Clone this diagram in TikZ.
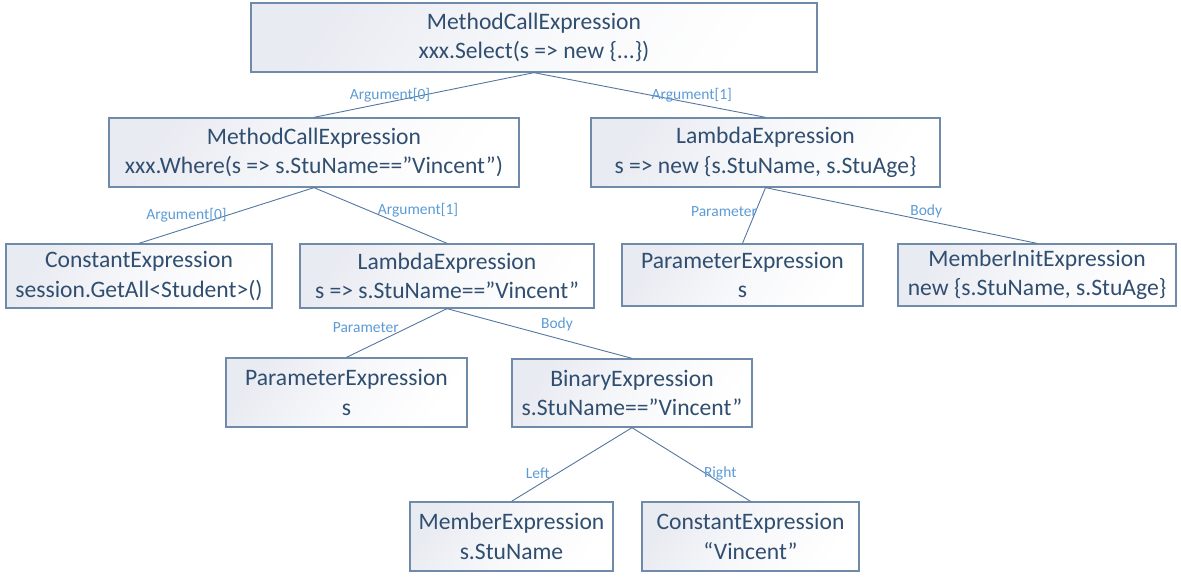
\documentclass[tikz,border=0pt]{standalone}
\usepackage{fontspec}
\setmainfont{Carlito}
\definecolor{boxtext}{RGB}{48,78,112}
\definecolor{boxborder}{RGB}{112,138,170}
\definecolor{boxshade}{RGB}{233,235,242}
\definecolor{edgecol}{RGB}{84,118,160}
\definecolor{lblcol}{RGB}{91,155,213}
\begin{document}
\begin{tikzpicture}[x=1pt,y=-1pt,
  exprbox/.style={rectangle, draw=boxborder, line width=1.3pt,
    top color=boxshade, bottom color=white, middle color=boxshade!35!white, shading angle=55,
    inner sep=0pt, align=center, text=boxtext,
    font=\fontsize{23.6}{29.4}\selectfont},
  conn/.style={draw=edgecol, line width=0.9pt},
  elabel/.style={text=lblcol, inner sep=0pt, font=\fontsize{15.5}{18}\selectfont}]
\useasboundingbox (0,0) rectangle (1181,578);
\node[exprbox, minimum width=566pt, minimum height=69pt] (top) at (534,37.5) {MethodCallExpression\\xxx.Select(s => new \{...\})};
\node[exprbox, minimum width=410pt, minimum height=69pt] (mcw) at (314,152.5) {MethodCallExpression\\xxx.Where(s => s.StuName==”Vincent”)};
\node[exprbox, minimum width=349pt, minimum height=69pt] (lam1) at (765.5,152.5) {LambdaExpression\\s => new \{s.StuName, s.StuAge\}};
\node[exprbox, minimum width=266pt, minimum height=64pt] (con1) at (139,276) {ConstantExpression\\session.GetAll<Student>()};
\node[exprbox, minimum width=294pt, minimum height=64pt] (lam2) at (447,276) {LambdaExpression\\s => s.StuName==”Vincent”};
\node[exprbox, minimum width=241pt, minimum height=62pt] (parR) at (742.5,275) {ParameterExpression\\s};
\node[exprbox, minimum width=278pt, minimum height=62pt] (mi) at (1037,275) {MemberInitExpression\\new \{s.StuName, s.StuAge\}};
\node[exprbox, minimum width=241pt, minimum height=69pt] (parL) at (346.5,392.5) {ParameterExpression\\s};
\node[exprbox, minimum width=240pt, minimum height=68pt] (bin) at (632,393) {BinaryExpression\\s.StuName==”Vincent”};
\node[exprbox, minimum width=203pt, minimum height=69pt] (mem) at (511.5,536.5) {MemberExpression\\s.StuName};
\node[exprbox, minimum width=217pt, minimum height=69pt] (con2) at (750.5,536.5) {ConstantExpression\\“Vincent”};

\draw[conn] (top.south) -- node[elabel, pos=0.5, xshift=-34pt] (l1) {Argument[0]} (mcw.north);
\draw[conn] (top.south) -- node[elabel, pos=0.5, xshift=42pt] (l2) {Argument[1]} (lam1.north);
\draw[conn] (mcw.south) -- node[elabel, pos=0.5, xshift=-40pt] (l3) {Argument[0]} (con1.north);
\draw[conn] (mcw.south) -- node[elabel, pos=0.5, xshift=37.5pt, yshift=5pt] (l4) {Argument[1]} (lam2.north);
\draw[conn] (lam1.south) -- node[elabel, pos=0.5, xshift=-30pt, yshift=3.5pt] (l5) {Parameter} (parR.north);
\draw[conn] (lam1.south) -- node[elabel, pos=0.5, xshift=25pt, yshift=4.5pt] (l6) {Body} (mi.north);
\draw[conn] (lam2.south) -- node[elabel, pos=0.5, xshift=-31pt, yshift=5pt] (l7) {Parameter} (parL.north);
\draw[conn] (lam2.south) -- node[elabel, pos=0.5, xshift=17.5pt, yshift=9pt] (l8) {Body} (bin.north);
\draw[conn] (bin.south) -- node[elabel, pos=0.5, xshift=-34pt, yshift=-8.5pt] (l9) {Left} (mem.north);
\draw[conn] (bin.south) -- node[elabel, pos=0.5, xshift=29pt, yshift=-8.5pt] (l10) {Right} (con2.north);
\end{tikzpicture}
\end{document}
